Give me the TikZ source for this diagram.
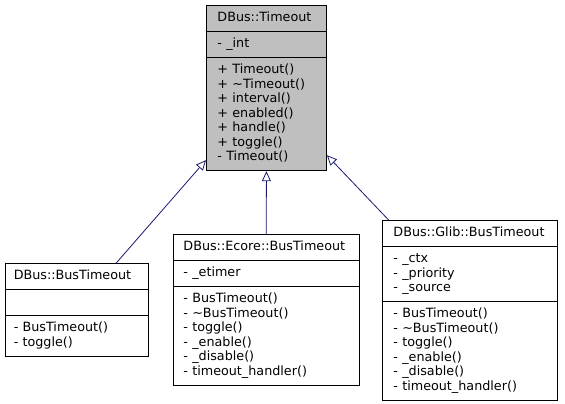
\documentclass[tikz,border=0pt]{standalone}
\usepackage{fontspec}
\newfontfamily\dvs{DejaVu Sans}
\usetikzlibrary{shapes.multipart,arrows.meta}
\definecolor{edgeblue}{HTML}{191970}
\definecolor{basegray}{HTML}{BFBFBF}

\begin{document}
\begin{tikzpicture}[x=1pt,y=-1pt,
    every node/.style={rectangle split, rectangle split parts=3, draw, line width=0.9pt, anchor=north west, align=left, inner ysep=5.35pt, font=\dvs\fontsize{12.75}{14.5}\selectfont},
    inherit/.style={draw=edgeblue, line width=0.8pt, -{Triangle[open,length=10pt,width=9pt]}}]
    \useasboundingbox (0,0) rectangle (565,404);
    \node[fill=basegray, text width=98pt, inner xsep=11pt] (timeout) at (206,5) {\centering\strut DBus::Timeout
      \nodepart{two}\begin{tabular}{@{}l@{}}- \_int\end{tabular}
      \nodepart{three}\begin{tabular}{@{}l@{}}+ Timeout()\\+ \textasciitilde Timeout()\\+ interval()\\+ enabled()\\+ handle()\\+ toggle()\\- Timeout()\end{tabular}};
    \node[fill=white, text width=126.4pt, inner xsep=8.3pt] (bus) at (5,263) {\centering\strut DBus::BusTimeout
      \nodepart{two}\strut
      \nodepart{three}\begin{tabular}{@{}l@{}}- BusTimeout()\\- toggle()\end{tabular}};
    \node[fill=white, text width=165.5pt, inner xsep=10.5pt] (ecore) at (172.5,234) {\centering\strut DBus::Ecore::BusTimeout
      \nodepart{two}\begin{tabular}{@{}l@{}}- \_etimer\end{tabular}
      \nodepart{three}\begin{tabular}{@{}l@{}}- BusTimeout()\\- \textasciitilde BusTimeout()\\- toggle()\\- \_enable()\\- \_disable()\\- timeout\_handler()\end{tabular}};
    \node[fill=white, text width=153pt, inner xsep=11pt] (glib) at (382,220) {\centering\strut DBus::Glib::BusTimeout
      \nodepart{two}\begin{tabular}{@{}l@{}}- \_ctx\\- \_priority\\- \_source\end{tabular}
      \nodepart{three}\begin{tabular}{@{}l@{}}- BusTimeout()\\- \textasciitilde BusTimeout()\\- toggle()\\- \_enable()\\- \_disable()\\- timeout\_handler()\end{tabular}};
    \draw[inherit] (bus.50) -- (timeout.230);
    \draw[inherit] (ecore.north) -- (timeout.south);
    \draw[inherit] (glib.132) -- (timeout.312);
\end{tikzpicture}
\end{document}
